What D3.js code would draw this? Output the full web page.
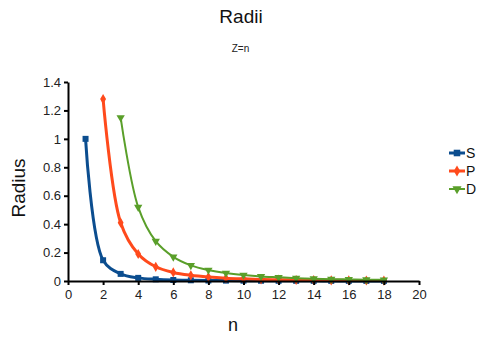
<!DOCTYPE html>
<html>
<head>
<meta charset="utf-8">
<script src="https://cdn.jsdelivr.net/npm/d3@7"></script>
<style>
  body { margin: 0; background: #fff; }
  svg { font-family: "Liberation Sans", Arial, sans-serif; }
  .axis path, .axis line { stroke: #000; stroke-width: 2; }
  .axis text { font-size: 13px; fill: #222; }
</style>
</head>
<body>
<div id="chart"></div>
<script>
// Data
const nS = [1, 2, 3, 4, 5, 6, 7, 8, 9, 10, 11, 12, 13, 14, 15, 16, 17, 18];
const rS = [1, 0.146, 0.05, 0.022, 0.012, 0.007, 0.005, 0.0035, 0.0027, 0.002, 0.0016, 0.0013, 0.0011, 0.0009, 0.0008, 0.0007, 0.0006, 0.0005];
const nP = [2, 3, 4, 5, 6, 7, 8, 9, 10, 11, 12, 13, 14, 15, 16, 17, 18];
const rP = [1.28, 0.41, 0.19, 0.1, 0.06, 0.04, 0.028, 0.02, 0.015, 0.011, 0.009, 0.007, 0.006, 0.005, 0.004, 0.0035, 0.003];
const nD = [3, 4, 5, 6, 7, 8, 9, 10, 11, 12, 13, 14, 15, 16, 17, 18];
const rD = [1.15, 0.52, 0.28, 0.17, 0.11, 0.077, 0.056, 0.042, 0.032, 0.026, 0.02, 0.016, 0.013, 0.011, 0.009, 0.008];
const xTicks = [0, 2, 4, 6, 8, 10, 12, 14, 16, 18, 20];
const yTicks = [0, 0.2, 0.4, 0.6, 0.8, 1, 1.2, 1.4];

const series = [
  { name: "S", n: nS, r: rS, color: "#0b4d8f", width: 3, symbol: d3.symbolSquare, size: 36, rotate: 0 },
  { name: "P", n: nP, r: rP, color: "#ff4a1c", width: 3, symbol: d3.symbolDiamond, size: 30, rotate: 0 },
  { name: "D", n: nD, r: rD, color: "#5a9f2a", width: 2, symbol: d3.symbolTriangle, size: 30, rotate: 180 }
];

const W = 485, H = 337;
const margin = { top: 82, right: 66, bottom: 56, left: 68 };
const width = W - margin.left - margin.right;
const height = H - margin.top - margin.bottom;

const svg = d3.select("#chart")
    .append("svg")
    .attr("width", W)
    .attr("height", H);

const g = svg.append("g")
    .attr("transform", `translate(${margin.left},${margin.top})`);

const x = d3.scaleLinear().domain([0, 20]).range([0, width]);
const y = d3.scaleLinear().domain([0, 1.4]).range([height, 0]);

// Smoothed lines with markers
const line = d3.line()
    .x(d => x(d[0]))
    .y(d => y(d[1]))
    .curve(d3.curveCatmullRom.alpha(0.5));

series.forEach(s => {
    const pts = s.n.map((n, i) => [n, s.r[i]]);
    g.append("path")
        .datum(pts)
        .attr("fill", "none")
        .attr("stroke", s.color)
        .attr("stroke-width", s.width)
        .attr("d", line);
    g.append("g")
        .selectAll("path")
        .data(pts)
        .enter()
        .append("path")
        .attr("d", d3.symbol().type(s.symbol).size(s.size))
        .attr("fill", s.color)
        .attr("transform", d => `translate(${x(d[0])},${y(d[1])}) rotate(${s.rotate})`);
});

// Axes
g.append("g")
    .attr("class", "axis")
    .attr("transform", `translate(0,${height})`)
    .call(d3.axisBottom(x).tickValues(xTicks).tickSize(4).tickSizeOuter(0).tickPadding(5));

g.append("g")
    .attr("class", "axis")
    .call(d3.axisLeft(y).tickValues(yTicks).tickSize(4).tickSizeOuter(0).tickPadding(3)
        .tickFormat(d3.format("~g")));

// Titles
svg.append("text")
    .attr("x", 241).attr("y", 23)
    .attr("text-anchor", "middle")
    .attr("font-size", 19)
    .attr("fill", "#111")
    .text("Radii");

svg.append("text")
    .attr("x", 240.5).attr("y", 52)
    .attr("text-anchor", "middle")
    .attr("font-size", 10)
    .attr("fill", "#222")
    .text("Z=n");

svg.append("text")
    .attr("transform", "translate(25,188) rotate(-90)")
    .attr("text-anchor", "middle")
    .attr("font-size", 19)
    .attr("fill", "#111")
    .text("Radius");

svg.append("text")
    .attr("x", 233).attr("y", 331)
    .attr("text-anchor", "middle")
    .attr("font-size", 18)
    .attr("fill", "#111")
    .text("n");

// Legend
const legend = svg.append("g").attr("transform", "translate(449,153)");
series.forEach((s, i) => {
    const row = legend.append("g").attr("transform", `translate(0,${i * 18})`);
    row.append("line")
        .attr("x1", 0).attr("x2", 16)
        .attr("stroke", s.color)
        .attr("stroke-width", s.width);
    row.append("path")
        .attr("d", d3.symbol().type(s.symbol).size(s.size * 1.2))
        .attr("fill", s.color)
        .attr("transform", `translate(8,0) rotate(${s.rotate})`);
    row.append("text")
        .attr("x", 17).attr("y", 5)
        .attr("font-size", 14)
        .attr("fill", "#111")
        .text(s.name);
});
</script>
</body>
</html>
